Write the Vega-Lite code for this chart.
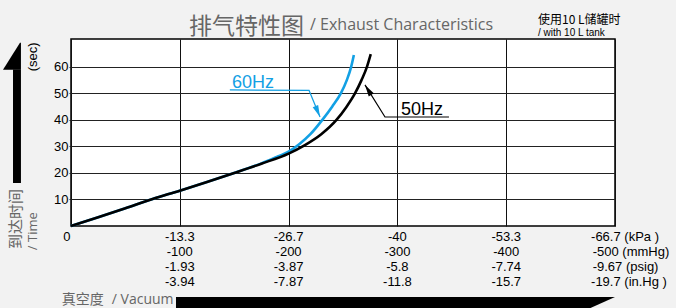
{
  "$schema": "https://vega.github.io/schema/vega-lite/v6.json",
  "width": 544,
  "height": 187,
  "autosize": {"type": "none"},
  "padding": {"left": 71, "top": 39, "right": 61, "bottom": 82},
  "background": "#f2f2f2",
  "config": {
    "view": {"stroke": "#000000", "strokeWidth": 1.5, "fill": "#ffffff"},
    "font": "Liberation Sans"
  },
  "datasets": {
    "blue": [
      {"x": 0, "y": 0}, {"x": 25, "y": 3.3}, {"x": 50, "y": 6.7}, {"x": 75, "y": 10.2},
      {"x": 100, "y": 13.3}, {"x": 125, "y": 16.6}, {"x": 150, "y": 20.0}, {"x": 175, "y": 23.6},
      {"x": 190, "y": 26.2}, {"x": 200, "y": 28.0}, {"x": 210, "y": 30.9}, {"x": 220, "y": 34.6},
      {"x": 231, "y": 40}, {"x": 240, "y": 45}, {"x": 248, "y": 50}, {"x": 253.5, "y": 55},
      {"x": 257.5, "y": 60}, {"x": 260, "y": 64.5}
    ],
    "black": [
      {"x": 0, "y": 0}, {"x": 25, "y": 3.3}, {"x": 50, "y": 6.7}, {"x": 75, "y": 10.2},
      {"x": 100, "y": 13.3}, {"x": 125, "y": 16.6}, {"x": 150, "y": 20.0}, {"x": 175, "y": 23.5},
      {"x": 200, "y": 27.3}, {"x": 215, "y": 30.5}, {"x": 230, "y": 34.6}, {"x": 244, "y": 40},
      {"x": 253, "y": 44.8}, {"x": 261, "y": 50}, {"x": 267, "y": 55}, {"x": 272, "y": 60},
      {"x": 275.5, "y": 64.8}
    ],
    "blueLeader": [
      {"i": 0, "x": 146, "y": 51.3}, {"i": 1, "x": 218.8, "y": 51.1}, {"i": 2, "x": 228.9, "y": 41.1}
    ],
    "blackLeader": [
      {"i": 0, "x": 347.4, "y": 41.1}, {"i": 1, "x": 288.6, "y": 41.1}, {"i": 2, "x": 270.2, "y": 53.2}
    ],
    "xlabels": [
      {"x": 100, "y": -4.04, "t": "-13.3"}, {"x": 100, "y": -9.7, "t": "-100"}, {"x": 100, "y": -15.36, "t": "-1.93"}, {"x": 100, "y": -21.0, "t": "-3.94"},
      {"x": 200, "y": -4.04, "t": "-26.7"}, {"x": 200, "y": -9.7, "t": "-200"}, {"x": 200, "y": -15.36, "t": "-3.87"}, {"x": 200, "y": -21.0, "t": "-7.87"},
      {"x": 300, "y": -4.04, "t": "-40"}, {"x": 300, "y": -9.7, "t": "-300"}, {"x": 300, "y": -15.36, "t": "-5.8"}, {"x": 300, "y": -21.0, "t": "-11.8"},
      {"x": 400, "y": -4.04, "t": "-53.3"}, {"x": 400, "y": -9.7, "t": "-400"}, {"x": 400, "y": -15.36, "t": "-7.74"}, {"x": 400, "y": -21.0, "t": "-15.7"},
      {"x": -3.7, "y": -4.04, "t": "0"}
    ],
    "unitlabels": [
      {"x": 478, "y": -4.04, "t": "-66.7 (kPa )"}, {"x": 479.5, "y": -9.7, "t": "-500  (mmHg)"},
      {"x": 479.5, "y": -15.36, "t": "-9.67 (psig)"}, {"x": 478, "y": -21.0, "t": "-19.7 (in.Hg )"}
    ]
  },
  "layer": [
    {
      "data": {"name": "blue"},
      "mark": {"type": "line", "color": "#12a0e4", "strokeWidth": 2.6, "interpolate": "monotone"},
      "encoding": {
        "x": {"field": "x", "type": "quantitative", "scale": {"domain": [0, 500], "nice": false, "zero": false},
              "axis": {"values": [0, 100, 200, 300, 400, 500], "tickCount": 20, "grid": true, "gridColor": "#111111", "gridOpacity": 1, "gridWidth": 1,
                       "labels": false, "ticks": false, "domain": false, "title": null}},
        "y": {"field": "y", "type": "quantitative", "scale": {"domain": [0, 70.5], "nice": false, "zero": false},
              "axis": {"values": [10, 20, 30, 40, 50, 60], "tickCount": 20, "grid": true, "gridColor": "#222222", "gridOpacity": 1, "gridWidth": 1,
                       "labels": true, "labelOverlap": false, "labelFont": "Liberation Sans", "labelFontSize": 13, "labelColor": "#000000",
                       "ticks": true, "tickSize": 2, "tickColor": "#222222", "labelPadding": 1, "domain": false, "title": null}}
      }
    },
    {
      "data": {"name": "black"},
      "mark": {"type": "line", "color": "#000000", "strokeWidth": 2.6, "interpolate": "monotone"},
      "encoding": {
        "x": {"field": "x", "type": "quantitative"},
        "y": {"field": "y", "type": "quantitative"}
      }
    },
    {
      "data": {"name": "blueLeader"},
      "mark": {"type": "line", "color": "#12a0e4", "strokeWidth": 1.2},
      "encoding": {
        "x": {"field": "x", "type": "quantitative"},
        "y": {"field": "y", "type": "quantitative"},
        "order": {"field": "i"}
      }
    },
    {
      "data": {"name": "blackLeader"},
      "mark": {"type": "line", "color": "#000000", "strokeWidth": 1.2},
      "encoding": {
        "x": {"field": "x", "type": "quantitative"},
        "y": {"field": "y", "type": "quantitative"},
        "order": {"field": "i"}
      }
    },
    {
      "data": {"values": [{"x": 228.9, "y": 41.1}]},
      "mark": {"type": "point", "shape": "M0,0L0.5,2L-0.5,2Z", "size": 140, "filled": true, "color": "#12a0e4", "opacity": 1, "angle": 157},
      "encoding": {"x": {"field": "x", "type": "quantitative"}, "y": {"field": "y", "type": "quantitative"}}
    },
    {
      "data": {"values": [{"x": 270.2, "y": 53.2}]},
      "mark": {"type": "point", "shape": "M0,0L0.5,2L-0.5,2Z", "size": 140, "filled": true, "color": "#000000", "opacity": 1, "angle": 328},
      "encoding": {"x": {"field": "x", "type": "quantitative"}, "y": {"field": "y", "type": "quantitative"}}
    },
    {
      "data": {"values": [{"x": 148, "y": 52.1, "t": "60Hz"}]},
      "mark": {"type": "text", "align": "left", "baseline": "alphabetic", "fontSize": 18, "color": "#12a0e4", "font": "Liberation Sans"},
      "encoding": {"x": {"field": "x", "type": "quantitative"}, "y": {"field": "y", "type": "quantitative"}, "text": {"field": "t"}}
    },
    {
      "data": {"values": [{"x": 303.3, "y": 41.9, "t": "50Hz"}]},
      "mark": {"type": "text", "align": "left", "baseline": "alphabetic", "fontSize": 18, "color": "#000000", "font": "Liberation Sans"},
      "encoding": {"x": {"field": "x", "type": "quantitative"}, "y": {"field": "y", "type": "quantitative"}, "text": {"field": "t"}}
    },
    {
      "data": {"name": "xlabels"},
      "mark": {"type": "text", "align": "center", "baseline": "middle", "fontSize": 13, "color": "#000000", "font": "Liberation Sans"},
      "encoding": {"x": {"field": "x", "type": "quantitative"}, "y": {"field": "y", "type": "quantitative"}, "text": {"field": "t"}}
    },
    {
      "data": {"name": "unitlabels"},
      "mark": {"type": "text", "align": "left", "baseline": "middle", "fontSize": 13, "color": "#000000", "font": "Liberation Sans"},
      "encoding": {"x": {"field": "x", "type": "quantitative"}, "y": {"field": "y", "type": "quantitative"}, "text": {"field": "t"}}
    },
    {
      "data": {"values": [{"x": 108.5, "y": 72.5, "t": "排气特性图"}]},
      "mark": {"type": "text", "align": "left", "baseline": "alphabetic", "fontSize": 23, "color": "#666666", "font": "Noto Sans CJK SC"},
      "encoding": {"x": {"field": "x", "type": "quantitative"}, "y": {"field": "y", "type": "quantitative"}, "text": {"field": "t"}}
    },
    {
      "data": {"values": [{"x": 219.7, "y": 74.0, "t": "/ Exhaust Characteristics"}]},
      "mark": {"type": "text", "align": "left", "baseline": "alphabetic", "fontSize": 16, "color": "#666666", "font": "Open Sans"},
      "encoding": {"x": {"field": "x", "type": "quantitative"}, "y": {"field": "y", "type": "quantitative"}, "text": {"field": "t"}}
    },
    {
      "data": {"values": [{"x": 429.2, "y": 76.0, "t": "使用10 L储罐时"}]},
      "mark": {"type": "text", "align": "left", "baseline": "alphabetic", "fontSize": 12, "color": "#000000", "font": "Noto Sans CJK SC"},
      "encoding": {"x": {"field": "x", "type": "quantitative"}, "y": {"field": "y", "type": "quantitative"}, "text": {"field": "t"}}
    },
    {
      "data": {"values": [{"x": 429.2, "y": 71.6, "t": "/ with 10 L tank"}]},
      "mark": {"type": "text", "align": "left", "baseline": "alphabetic", "fontSize": 10, "color": "#000000", "font": "Liberation Sans"},
      "encoding": {"x": {"field": "x", "type": "quantitative"}, "y": {"field": "y", "type": "quantitative"}, "text": {"field": "t"}}
    },
    {
      "data": {"values": [{"x": -34.9, "y": 63.8, "t": "(sec)"}]},
      "mark": {"type": "text", "align": "center", "baseline": "middle", "fontSize": 13, "color": "#000000", "font": "Liberation Sans", "angle": 270},
      "encoding": {"x": {"field": "x", "type": "quantitative"}, "y": {"field": "y", "type": "quantitative"}, "text": {"field": "t"}}
    },
    {
      "data": {"values": [{"x": -50.6, "y": -8.7, "t": "到达时间"}]},
      "mark": {"type": "text", "align": "left", "baseline": "middle", "fontSize": 15, "color": "#666666", "font": "Noto Sans CJK SC", "angle": 270},
      "encoding": {"x": {"field": "x", "type": "quantitative"}, "y": {"field": "y", "type": "quantitative"}, "text": {"field": "t"}}
    },
    {
      "data": {"values": [{"x": -34.9, "y": -9.1, "t": "/ Time"}]},
      "mark": {"type": "text", "align": "left", "baseline": "middle", "fontSize": 13, "color": "#666666", "font": "Open Sans", "angle": 270},
      "encoding": {"x": {"field": "x", "type": "quantitative"}, "y": {"field": "y", "type": "quantitative"}, "text": {"field": "t"}}
    },
    {
      "data": {"values": [{"x": -8.5, "y": -28.0, "t": "真空度"}]},
      "mark": {"type": "text", "align": "left", "baseline": "middle", "fontSize": 14, "color": "#666666", "font": "Noto Sans CJK SC"},
      "encoding": {"x": {"field": "x", "type": "quantitative"}, "y": {"field": "y", "type": "quantitative"}, "text": {"field": "t"}}
    },
    {
      "data": {"values": [{"x": 37.5, "y": -28.0, "t": "/ Vacuum"}]},
      "mark": {"type": "text", "align": "left", "baseline": "middle", "fontSize": 14, "color": "#666666", "font": "Open Sans"},
      "encoding": {"x": {"field": "x", "type": "quantitative"}, "y": {"field": "y", "type": "quantitative"}, "text": {"field": "t"}}
    },
    {
      "data": {"values": [{"x": -53.3, "x2": -46.0, "y": 59.0, "y2": 16.2}]},
      "mark": {"type": "rect", "color": "#000000"},
      "encoding": {
        "x": {"field": "x", "type": "quantitative"}, "x2": {"field": "x2"},
        "y": {"field": "y", "type": "quantitative"}, "y2": {"field": "y2"}
      }
    },
    {
      "data": {"values": [{"y": 69.1, "x": -46.9, "x2": -46.0}, {"y": 58.9, "x": -62.5, "x2": -46.0}]},
      "mark": {"type": "area", "orient": "horizontal", "color": "#000000", "opacity": 1},
      "encoding": {
        "y": {"field": "y", "type": "quantitative"},
        "x": {"field": "x", "type": "quantitative"}, "x2": {"field": "x2"}
      }
    },
    {
      "data": {"values": [{"x": 96.5, "y": -26.8, "y2": -32}, {"x": 477, "y": -26.8, "y2": -31}, {"x": 500, "y": -26.8, "y2": -26.8}]},
      "mark": {"type": "area", "orient": "vertical", "color": "#000000", "opacity": 1},
      "encoding": {
        "x": {"field": "x", "type": "quantitative"},
        "y": {"field": "y", "type": "quantitative"}, "y2": {"field": "y2"}
      }
    }
  ]
}
